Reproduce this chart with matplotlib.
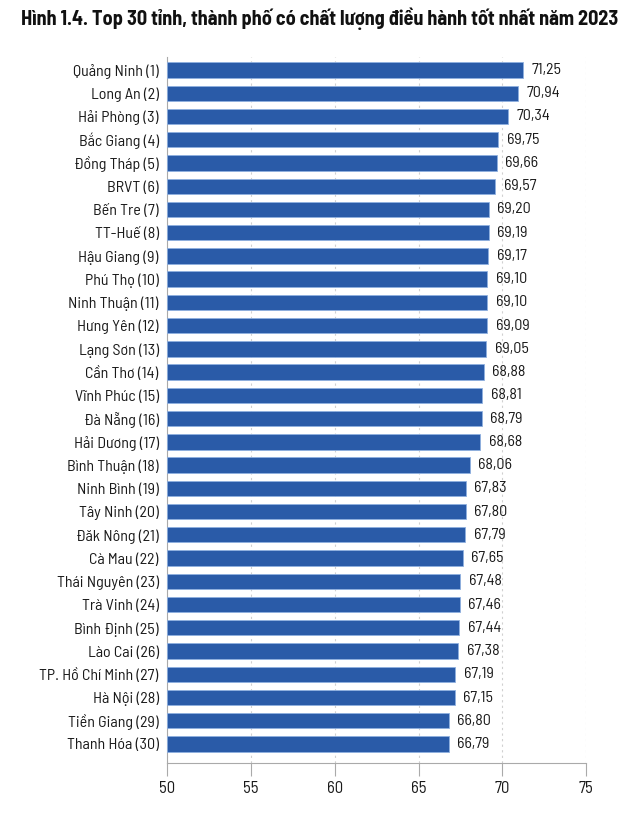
import matplotlib
matplotlib.use("Agg")
import matplotlib.pyplot as plt

plt.rcParams['font.family'] = ['Barlow Semi Condensed', 'DejaVu Sans']

provinces = [
    "Quảng Ninh (1)", "Long An (2)", "Hải Phòng (3)", "Bắc Giang (4)", "Đồng Tháp (5)",
    "BRVT (6)", "Bến Tre (7)", "TT-Huế (8)", "Hậu Giang (9)", "Phú Thọ (10)",
    "Ninh Thuận (11)", "Hưng Yên (12)", "Lạng Sơn (13)", "Cần Thơ (14)", "Vĩnh Phúc (15)",
    "Đà Nẵng (16)", "Hải Dương (17)", "Bình Thuận (18)", "Ninh Bình (19)", "Tây Ninh (20)",
    "Đăk Nông (21)", "Cà Mau (22)", "Thái Nguyên (23)", "Trà Vinh (24)", "Bình Định (25)",
    "Lào Cai (26)", "TP. Hồ Chí Minh (27)", "Hà Nội (28)", "Tiền Giang (29)", "Thanh Hóa (30)",
]
scores = [
    71.25, 70.94, 70.34, 69.75, 69.66, 69.57, 69.20, 69.19, 69.17, 69.10,
    69.10, 69.09, 69.05, 68.88, 68.81, 68.79, 68.68, 68.06, 67.83, 67.80,
    67.79, 67.65, 67.48, 67.46, 67.44, 67.38, 67.19, 67.15, 66.80, 66.79,
]
x_ticks = [50, 55, 60, 65, 70, 75]

fig = plt.figure(figsize=(6.4, 8.14), dpi=100)
ax = fig.add_axes([0.261, 0.0623, 0.655, 0.868])

pos = list(range(len(provinces)))
ax.barh(pos, [s - 50 for s in scores], left=50, height=0.66,
        color="#2a5ba8", edgecolor="#8fb0e0", linewidth=0.6, zorder=3)

# nhãn giá trị, dấu phẩy thập phân
for p, s in zip(pos, scores):
    ax.text(s + 0.5, p, f"{s:.2f}".replace(".", ","), va="center", ha="left",
            fontsize=11.5, color="#1a1a1a")

ax.set_xlim(50, 75)
ax.set_ylim(len(provinces) - 1 + 0.83, -0.57)
ax.set_yticks(pos)
ax.set_yticklabels(provinces, fontsize=11.5, color="#1a1a1a")
ax.set_xticks(x_ticks)
ax.set_xticklabels([str(t) for t in x_ticks], fontsize=12, color="#1a1a1a")

ax.grid(axis="x", linestyle=(0, (2, 3)), color="#d0d0d0", linewidth=0.8, zorder=0)
for side in ["top", "right"]:
    ax.spines[side].set_visible(False)
ax.spines["left"].set_color("#aaaaaa")
ax.spines["bottom"].set_color("#aaaaaa")
ax.tick_params(axis="y", length=0, pad=6)
ax.tick_params(axis="x", length=9, color="#aaaaaa", pad=4, direction="out")

fig.text(0.5, 0.977, "Hình 1.4. Top 30 tỉnh, thành phố có chất lượng điều hành tốt nhất năm 2023",
         ha="center", va="center", fontsize=14.5, fontweight="bold", color="#111111")

plt.savefig("out.png", dpi=100)
